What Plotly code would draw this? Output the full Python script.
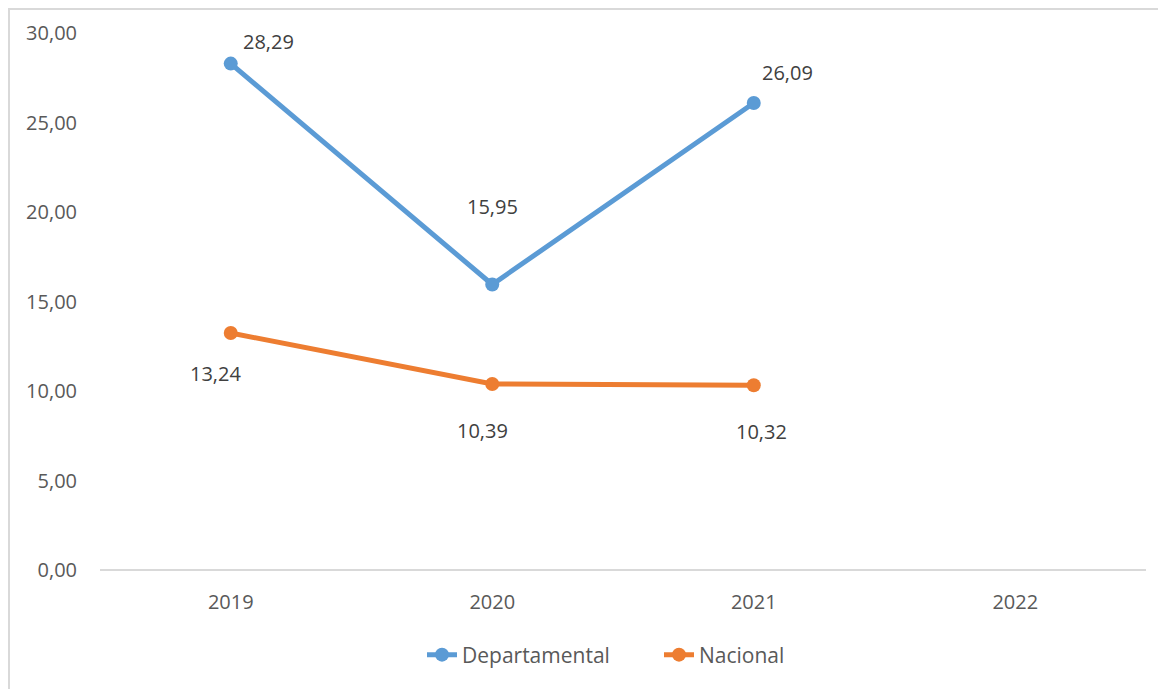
import plotly.graph_objects as go

years = ["2019", "2020", "2021", "2022"]
departamental = [28.29, 15.95, 26.09, None]
nacional = [13.24, 10.39, 10.32, None]
y_ticks = [0, 5, 10, 15, 20, 25, 30]

# label pixel offsets (style)
dep_shift = [(38, 22), (0, 78), (34, 30)]
nac_shift = [(-15, -40), (-10, -46), (8, -46)]

FONT = "Open Sans"
ML, MR, MT, MB = 92, 28, 25, 127
PW, PH = 1166 - ML - MR, 689 - MT - MB

fig = go.Figure()
fig.add_trace(go.Scatter(x=years, y=departamental, name="Departamental", mode="lines+markers",
                         line=dict(color="#5B9BD5", width=5), marker=dict(size=14, color="#5B9BD5")))
fig.add_trace(go.Scatter(x=years, y=nacional, name="Nacional", mode="lines+markers",
                         line=dict(color="#ED7D31", width=5), marker=dict(size=14, color="#ED7D31")))

def fmt(v):
    return f"{v:.2f}".replace(".", ",")

for series, shifts in ((departamental, dep_shift), (nacional, nac_shift)):
    for i, v in enumerate(series):
        if v is None:
            continue
        fig.add_annotation(x=i, y=v, xref="x", yref="y", text=fmt(v), showarrow=False,
                           xshift=shifts[i][0], yshift=shifts[i][1],
                           font=dict(family=FONT, size=20, color="#404040"))

fig.update_layout(
    width=1166, height=689,
    margin=dict(l=ML, r=MR, t=MT, b=MB, autoexpand=False),
    paper_bgcolor="white", plot_bgcolor="white",
    font=dict(family=FONT, size=20, color="#595959"),
    xaxis=dict(type="category", range=[-0.5, 3.5], showgrid=False, showline=False,
               zeroline=False, ticks="", ticklabelstandoff=18,
               tickfont=dict(size=20, color="#595959")),
    yaxis=dict(range=[0, 30], tickvals=y_ticks, ticktext=[fmt(t) for t in y_ticks],
               showgrid=False, zeroline=True, zerolinecolor="#D9D9D9", zerolinewidth=2,
               showline=False, ticks="", ticklabelstandoff=22,
               tickfont=dict(size=20, color="#595959")),
    legend=dict(orientation="h", x=(404 - 8 - ML - 8 + 26) / PW, xanchor="left",
                y=(562 - 647) / PH, yanchor="middle", entrywidth=192, entrywidthmode="pixels",
                font=dict(size=21, color="#595959")),
    showlegend=True,
    shapes=[dict(type="rect", xref="paper", yref="paper",
                 x0=(1 - ML) / PW, x1=(1180 - ML) / PW,
                 y0=-0.4, y1=1 + (MT - 1) / PH,
                 line=dict(color="#D9D9D9", width=2), fillcolor="rgba(0,0,0,0)", layer="below")],
)

fig.write_html("out.html")
